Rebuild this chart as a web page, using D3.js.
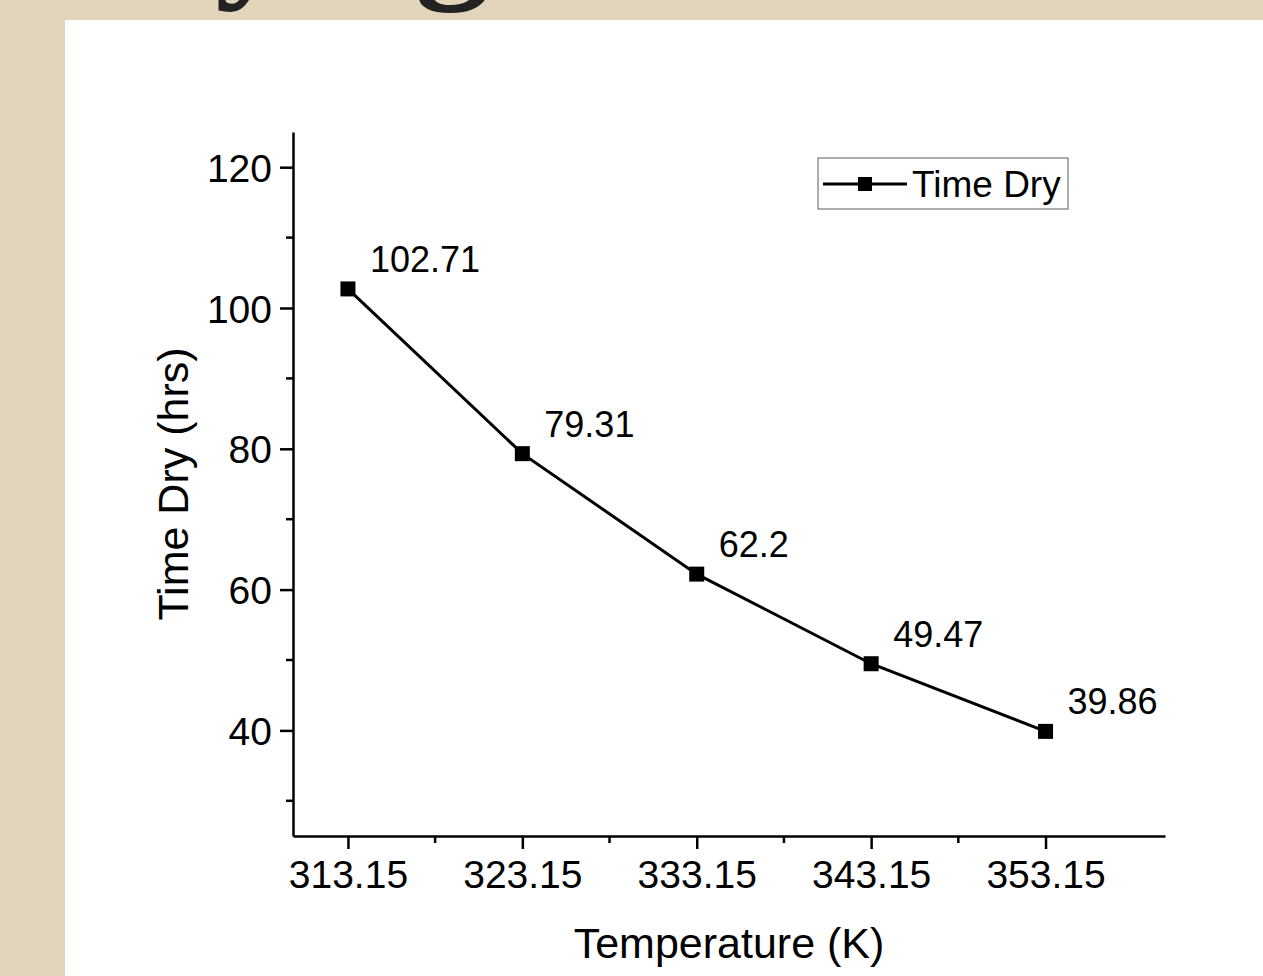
<!DOCTYPE html>
<html>
<head>
<meta charset="utf-8">
<script src="https://cdn.jsdelivr.net/npm/d3@7"></script>
<style>
  body { margin: 0; background: #e3d5bb; }
  svg { display: block; font-family: Arial, "Liberation Sans", sans-serif; }
  .heading { font-family: "Liberation Serif", "Times New Roman", serif; font-weight: bold; }
</style>
</head>
<body>
<div id="chart"></div>
<script>
// Data
const temperatures = [313.15, 323.15, 333.15, 343.15, 353.15];
const timeDry = [102.71, 79.31, 62.2, 49.47, 39.86];
const xTicks = [313.15, 323.15, 333.15, 343.15, 353.15];
const xMinorTicks = [318.15, 328.15, 338.15, 348.15];
const yTicks = [40, 60, 80, 100, 120];
const yMinorTicks = [30, 50, 70, 90, 110];
const seriesName = 'Time Dry';

const width = 1263, height = 976;
const svg = d3.select('#chart').append('svg')
    .attr('width', width)
    .attr('height', height);

// Slide background and white panel
svg.append('rect').attr('width', width).attr('height', height).attr('fill', '#e3d5bb');
svg.append('rect').attr('x', 65).attr('y', 20).attr('width', width - 65).attr('height', height - 20).attr('fill', '#fff');

// Slide heading, cut off by the top edge as in the slide
svg.append('text')
    .attr('class', 'heading')
    .attr('x', 40)
    .attr('y', -20)
    .style('font-size', '150px')
    .style('fill', '#222')
    .text('Drying');

const plot = { left: 293, right: 1165, top: 132, bottom: 836 };

const x = d3.scaleLinear().domain([310, 360]).range([plot.left, plot.right]);
const y = d3.scaleLinear().domain([25, 125]).range([plot.bottom, plot.top]);

// Axes
const xAxis = svg.append('g')
    .attr('transform', `translate(0,${plot.bottom})`)
    .call(d3.axisBottom(x).tickValues(xTicks).tickSize(13).tickSizeOuter(0).tickPadding(8).tickFormat(d3.format('.2f')));
xAxis.append('g').selectAll('line').data(xMinorTicks).join('line')
    .attr('x1', d => x(d)).attr('x2', d => x(d))
    .attr('y1', 0).attr('y2', 7)
    .attr('stroke', '#000').attr('stroke-width', 2.5);

const yAxis = svg.append('g')
    .attr('transform', `translate(${plot.left},0)`)
    .call(d3.axisLeft(y).tickValues(yTicks).tickSize(13).tickSizeOuter(0).tickPadding(8));
yAxis.append('g').selectAll('line').data(yMinorTicks).join('line')
    .attr('y1', d => y(d)).attr('y2', d => y(d))
    .attr('x1', 0).attr('x2', -7)
    .attr('stroke', '#000').attr('stroke-width', 2.5);

[xAxis, yAxis].forEach(a => {
    a.select('.domain').attr('stroke', '#000').attr('stroke-width', 2.5);
    a.selectAll('.tick line').attr('stroke', '#000').attr('stroke-width', 2.5);
    a.selectAll('.tick text').style('font-size', '39px').style('fill', '#000');
});
yAxis.selectAll('.tick text').attr('dy', '0.36em');
xAxis.selectAll('.tick text').attr('dy', '0.8em');

// Axis titles
svg.append('text')
    .attr('x', (plot.left + plot.right) / 2)
    .attr('y', 958)
    .attr('text-anchor', 'middle')
    .style('font-size', '43px')
    .text('Temperature (K)');

svg.append('text')
    .attr('transform', `translate(188,${(plot.top + plot.bottom) / 2}) rotate(-90)`)
    .attr('text-anchor', 'middle')
    .style('font-size', '43px')
    .text('Time Dry (hrs)');

// Series
const points = temperatures.map((t, i) => ({ t, v: timeDry[i] }));
const line = d3.line().x(d => x(d.t)).y(d => y(d.v));

svg.append('path')
    .datum(points)
    .attr('d', line)
    .attr('fill', 'none')
    .attr('stroke', '#000')
    .attr('stroke-width', 3);

svg.selectAll('.marker').data(points).join('rect')
    .attr('class', 'marker')
    .attr('x', d => x(d.t) - 7.5)
    .attr('y', d => y(d.v) - 7.5)
    .attr('width', 15)
    .attr('height', 15)
    .attr('fill', '#000');

svg.selectAll('.value-label').data(points).join('text')
    .attr('class', 'value-label')
    .attr('x', d => x(d.t) + 22)
    .attr('y', d => y(d.v) - 17)
    .style('font-size', '36px')
    .text(d => d.v);

// Legend
const legend = svg.append('g').attr('transform', 'translate(818,158)');
legend.append('rect')
    .attr('width', 250).attr('height', 51)
    .attr('fill', '#fff').attr('stroke', '#777').attr('stroke-width', 1.2);
legend.append('line')
    .attr('x1', 5).attr('x2', 89).attr('y1', 26).attr('y2', 26)
    .attr('stroke', '#000').attr('stroke-width', 3);
legend.append('rect')
    .attr('x', 40).attr('y', 19).attr('width', 14).attr('height', 14).attr('fill', '#000');
legend.append('text')
    .attr('x', 94).attr('y', 39)
    .style('font-size', '37px')
    .text(seriesName);
</script>
</body>
</html>
